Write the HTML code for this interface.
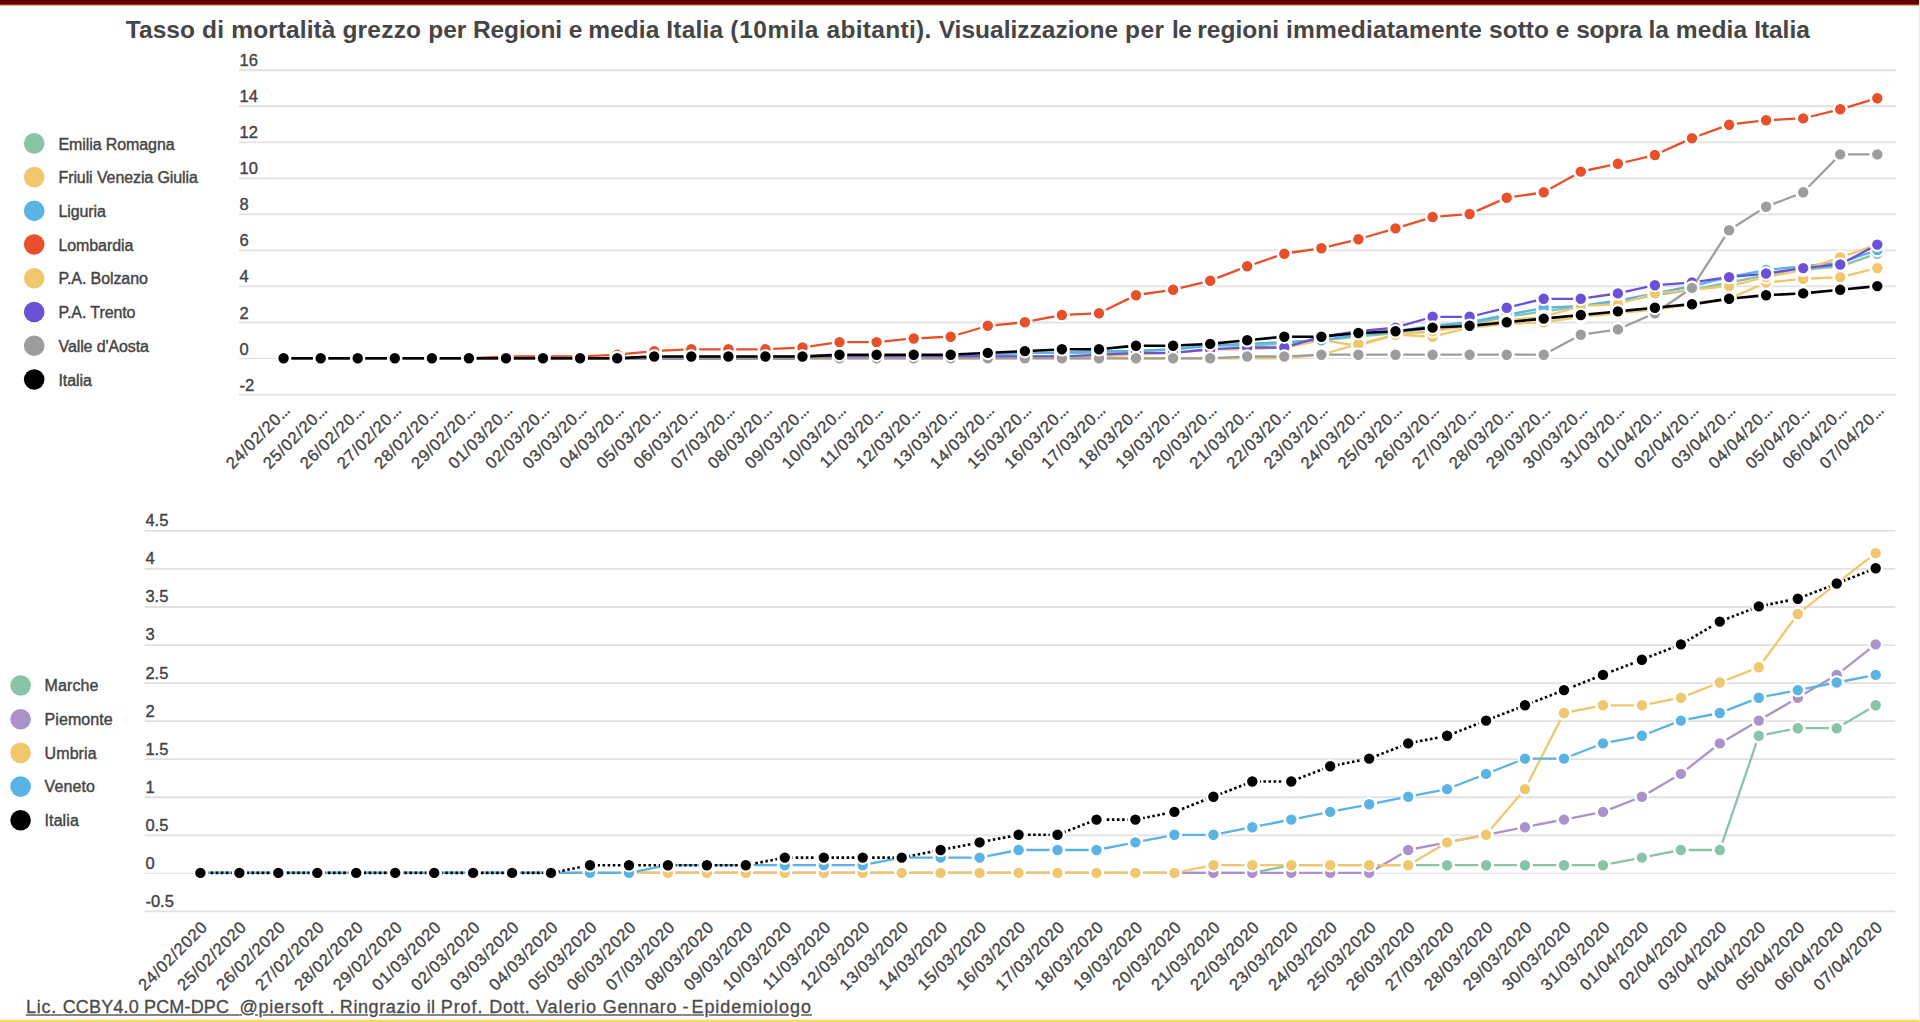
<!DOCTYPE html>
<html lang="it">
<head>
<meta charset="utf-8">
<title>Tasso di mortalità grezzo</title>
<style>
html,body{margin:0;padding:0;background:#fff;}
body{width:1920px;height:1022px;position:relative;overflow:hidden;font-family:"Liberation Sans", sans-serif;color:#444444;}
#topbar{position:absolute;left:0;top:0;width:1919px;height:6px;background:linear-gradient(to bottom,#690000 0,#690000 3.6px,#8a2a10 4.4px,#d8a83c 5.3px,#ffffff 6px);}
#rightedge{position:absolute;left:1918.6px;top:0;width:1.4px;height:1022px;background:#ececec;}
#botbar{position:absolute;left:0;top:1019.6px;width:1920px;height:2.4px;background:#fdd663;}
#botbar2{position:absolute;left:0;top:1018.8px;width:1920px;height:1px;background:#edf1fb;}
h1{position:absolute;left:125.7px;top:14.3px;margin:0;font-size:24.5px;line-height:32px;font-weight:bold;white-space:nowrap;color:#454545;transform-origin:0 50%;}
#foot{position:absolute;left:25.9px;top:994.8px;margin:0;font-size:18px;-webkit-text-stroke:0.3px #4a4a4a;line-height:24px;white-space:pre;color:#4a4a4a;text-decoration:underline;text-decoration-color:#858585;text-decoration-thickness:1.6px;text-underline-offset:0.9px;transform-origin:0 50%;}
svg{position:absolute;left:0;top:0;font-family:"Liberation Sans", sans-serif;}
</style>
</head>
<body>
<div id="topbar"></div>
<h1 id="title"><span style="letter-spacing:0.084px">Tasso </span><span style="letter-spacing:0.24px">di </span><span style="letter-spacing:0.083px">mortalità </span><span style="letter-spacing:0.215px">grezzo </span><span style="letter-spacing:-0.058px">per </span><span style="letter-spacing:-0.13px">Regioni </span><span style="letter-spacing:-0.366px">e </span><span style="letter-spacing:0.047px">media </span><span style="letter-spacing:0.209px">Italia </span><span style="letter-spacing:0.607px">(10mila </span><span style="letter-spacing:0.301px">abitanti). </span><span style="letter-spacing:0.014px">Visualizzazione </span><span style="letter-spacing:0.517px">per </span><span style="letter-spacing:-0.68px">le </span><span style="letter-spacing:0.028px">regioni </span><span style="letter-spacing:0.203px">immediatamente </span><span style="letter-spacing:-0.03px">sotto </span><span style="letter-spacing:0.034px">e </span><span style="letter-spacing:-0.187px">sopra </span><span style="letter-spacing:-0.013px">la </span><span style="letter-spacing:0.131px">media </span><span style="letter-spacing:-0.041px">Italia</span></h1>
<svg width="1920" height="1022" viewBox="0 0 1920 1022">
<g id="chart1">
<line x1="239" y1="70.23" x2="1896.2" y2="70.23" stroke="#e1e1e1" stroke-width="1.8"/>
<line x1="239" y1="106.27" x2="1896.2" y2="106.27" stroke="#e1e1e1" stroke-width="1.8"/>
<line x1="239" y1="142.31" x2="1896.2" y2="142.31" stroke="#e1e1e1" stroke-width="1.8"/>
<line x1="239" y1="178.35" x2="1896.2" y2="178.35" stroke="#e1e1e1" stroke-width="1.8"/>
<line x1="239" y1="214.39" x2="1896.2" y2="214.39" stroke="#e1e1e1" stroke-width="1.8"/>
<line x1="239" y1="250.43" x2="1896.2" y2="250.43" stroke="#e1e1e1" stroke-width="1.8"/>
<line x1="239" y1="286.47" x2="1896.2" y2="286.47" stroke="#e1e1e1" stroke-width="1.8"/>
<line x1="239" y1="322.51" x2="1896.2" y2="322.51" stroke="#e1e1e1" stroke-width="1.8"/>
<line x1="239" y1="358.55" x2="1896.2" y2="358.55" stroke="#dedede" stroke-width="1.1"/>
<line x1="239" y1="394.59" x2="1896.2" y2="394.59" stroke="#e1e1e1" stroke-width="1.8"/>
<g font-size="16.5" fill="#444444" stroke="#444444" stroke-width="0.4">
<text x="239.5" y="66.23">16</text>
<text x="239.5" y="102.27">14</text>
<text x="239.5" y="138.31">12</text>
<text x="239.5" y="174.35">10</text>
<text x="239.5" y="210.39">8</text>
<text x="239.5" y="246.43">6</text>
<text x="239.5" y="282.47">4</text>
<text x="239.5" y="318.51">2</text>
<text x="239.5" y="354.55">0</text>
<text x="239.5" y="390.59">-2</text>
</g>
<g font-size="16.5" fill="#444444" stroke="#444444" stroke-width="0.35" text-anchor="end" letter-spacing="0.78">
<text transform="translate(290.50 411.90) rotate(-45)">24/02/20<tspan letter-spacing="-0.8">...</tspan></text>
<text transform="translate(327.56 411.90) rotate(-45)">25/02/20<tspan letter-spacing="-0.8">...</tspan></text>
<text transform="translate(364.63 411.90) rotate(-45)">26/02/20<tspan letter-spacing="-0.8">...</tspan></text>
<text transform="translate(401.69 411.90) rotate(-45)">27/02/20<tspan letter-spacing="-0.8">...</tspan></text>
<text transform="translate(438.75 411.90) rotate(-45)">28/02/20<tspan letter-spacing="-0.8">...</tspan></text>
<text transform="translate(475.81 411.90) rotate(-45)">29/02/20<tspan letter-spacing="-0.8">...</tspan></text>
<text transform="translate(512.88 411.90) rotate(-45)">01/03/20<tspan letter-spacing="-0.8">...</tspan></text>
<text transform="translate(549.94 411.90) rotate(-45)">02/03/20<tspan letter-spacing="-0.8">...</tspan></text>
<text transform="translate(587.00 411.90) rotate(-45)">03/03/20<tspan letter-spacing="-0.8">...</tspan></text>
<text transform="translate(624.07 411.90) rotate(-45)">04/03/20<tspan letter-spacing="-0.8">...</tspan></text>
<text transform="translate(661.13 411.90) rotate(-45)">05/03/20<tspan letter-spacing="-0.8">...</tspan></text>
<text transform="translate(698.19 411.90) rotate(-45)">06/03/20<tspan letter-spacing="-0.8">...</tspan></text>
<text transform="translate(735.26 411.90) rotate(-45)">07/03/20<tspan letter-spacing="-0.8">...</tspan></text>
<text transform="translate(772.32 411.90) rotate(-45)">08/03/20<tspan letter-spacing="-0.8">...</tspan></text>
<text transform="translate(809.38 411.90) rotate(-45)">09/03/20<tspan letter-spacing="-0.8">...</tspan></text>
<text transform="translate(846.45 411.90) rotate(-45)">10/03/20<tspan letter-spacing="-0.8">...</tspan></text>
<text transform="translate(883.51 411.90) rotate(-45)">11/03/20<tspan letter-spacing="-0.8">...</tspan></text>
<text transform="translate(920.57 411.90) rotate(-45)">12/03/20<tspan letter-spacing="-0.8">...</tspan></text>
<text transform="translate(957.63 411.90) rotate(-45)">13/03/20<tspan letter-spacing="-0.8">...</tspan></text>
<text transform="translate(994.70 411.90) rotate(-45)">14/03/20<tspan letter-spacing="-0.8">...</tspan></text>
<text transform="translate(1031.76 411.90) rotate(-45)">15/03/20<tspan letter-spacing="-0.8">...</tspan></text>
<text transform="translate(1068.82 411.90) rotate(-45)">16/03/20<tspan letter-spacing="-0.8">...</tspan></text>
<text transform="translate(1105.89 411.90) rotate(-45)">17/03/20<tspan letter-spacing="-0.8">...</tspan></text>
<text transform="translate(1142.95 411.90) rotate(-45)">18/03/20<tspan letter-spacing="-0.8">...</tspan></text>
<text transform="translate(1180.01 411.90) rotate(-45)">19/03/20<tspan letter-spacing="-0.8">...</tspan></text>
<text transform="translate(1217.08 411.90) rotate(-45)">20/03/20<tspan letter-spacing="-0.8">...</tspan></text>
<text transform="translate(1254.14 411.90) rotate(-45)">21/03/20<tspan letter-spacing="-0.8">...</tspan></text>
<text transform="translate(1291.20 411.90) rotate(-45)">22/03/20<tspan letter-spacing="-0.8">...</tspan></text>
<text transform="translate(1328.26 411.90) rotate(-45)">23/03/20<tspan letter-spacing="-0.8">...</tspan></text>
<text transform="translate(1365.33 411.90) rotate(-45)">24/03/20<tspan letter-spacing="-0.8">...</tspan></text>
<text transform="translate(1402.39 411.90) rotate(-45)">25/03/20<tspan letter-spacing="-0.8">...</tspan></text>
<text transform="translate(1439.45 411.90) rotate(-45)">26/03/20<tspan letter-spacing="-0.8">...</tspan></text>
<text transform="translate(1476.52 411.90) rotate(-45)">27/03/20<tspan letter-spacing="-0.8">...</tspan></text>
<text transform="translate(1513.58 411.90) rotate(-45)">28/03/20<tspan letter-spacing="-0.8">...</tspan></text>
<text transform="translate(1550.64 411.90) rotate(-45)">29/03/20<tspan letter-spacing="-0.8">...</tspan></text>
<text transform="translate(1587.71 411.90) rotate(-45)">30/03/20<tspan letter-spacing="-0.8">...</tspan></text>
<text transform="translate(1624.77 411.90) rotate(-45)">31/03/20<tspan letter-spacing="-0.8">...</tspan></text>
<text transform="translate(1661.83 411.90) rotate(-45)">01/04/20<tspan letter-spacing="-0.8">...</tspan></text>
<text transform="translate(1698.89 411.90) rotate(-45)">02/04/20<tspan letter-spacing="-0.8">...</tspan></text>
<text transform="translate(1735.96 411.90) rotate(-45)">03/04/20<tspan letter-spacing="-0.8">...</tspan></text>
<text transform="translate(1773.02 411.90) rotate(-45)">04/04/20<tspan letter-spacing="-0.8">...</tspan></text>
<text transform="translate(1810.08 411.90) rotate(-45)">05/04/20<tspan letter-spacing="-0.8">...</tspan></text>
<text transform="translate(1847.15 411.90) rotate(-45)">06/04/20<tspan letter-spacing="-0.8">...</tspan></text>
<text transform="translate(1884.21 411.90) rotate(-45)">07/04/20<tspan letter-spacing="-0.8">...</tspan></text>
</g>
<g fill="#88c4a8" stroke="#fff" stroke-width="2.1">
<path d="M291.4 358.3L312.9 358.3M328.5 358.3L349.9 358.3M365.5 358.3L387.0 358.3M402.6 358.3L424.1 358.3M439.7 358.3L461.1 358.3M476.7 358.3L498.2 358.3M513.8 358.3L535.2 358.3M550.8 358.3L572.3 358.3M587.9 358.3L609.4 358.3M625.0 358.3L646.4 358.3M662.0 358.3L683.5 358.3M699.1 358.3L720.6 358.3M736.1 357.9L757.6 356.9M773.2 356.5L794.7 356.5M810.3 356.5L831.7 356.5M847.3 356.5L868.8 356.5M884.4 356.5L905.9 356.5M921.5 356.1L942.9 355.1M958.5 354.7L980.0 354.7M995.6 354.3L1017.1 353.3M1032.7 352.9L1054.1 352.9M1069.7 352.9L1091.2 352.9M1106.8 352.5L1128.3 351.5M1143.8 350.7L1165.3 349.7M1180.9 348.5L1202.4 346.4M1218.0 345.7L1239.4 345.7M1255.0 345.3L1276.5 344.2M1292.1 343.1L1313.6 341.0M1329.1 339.5L1350.7 337.4M1366.2 335.9L1387.7 333.8M1403.2 331.9L1424.8 328.8M1440.3 326.9L1461.9 324.8M1477.3 322.5L1499.0 318.3M1514.4 315.7L1536.0 312.5M1551.5 310.3L1573.1 307.1M1588.6 305.2L1610.1 303.1M1625.5 300.9L1647.3 296.7M1662.6 294.0L1684.3 290.9M1699.7 288.3L1721.4 284.0M1736.7 281.0L1758.5 276.8M1773.8 274.2L1795.5 271.0M1810.9 269.1L1832.5 267.1M1847.6 263.8L1869.9 256.2" fill="none" stroke="#88c4a8" stroke-width="2.3"/>
<circle cx="283.6" cy="358.3" r="6.25"/>
<circle cx="320.7" cy="358.3" r="6.25"/>
<circle cx="357.7" cy="358.3" r="6.25"/>
<circle cx="394.8" cy="358.3" r="6.25"/>
<circle cx="431.9" cy="358.3" r="6.25"/>
<circle cx="468.9" cy="358.3" r="6.25"/>
<circle cx="506.0" cy="358.3" r="6.25"/>
<circle cx="543.0" cy="358.3" r="6.25"/>
<circle cx="580.1" cy="358.3" r="6.25"/>
<circle cx="617.2" cy="358.3" r="6.25"/>
<circle cx="654.2" cy="358.3" r="6.25"/>
<circle cx="691.3" cy="358.3" r="6.25"/>
<circle cx="728.4" cy="358.3" r="6.25"/>
<circle cx="765.4" cy="356.5" r="6.25"/>
<circle cx="802.5" cy="356.5" r="6.25"/>
<circle cx="839.5" cy="356.5" r="6.25"/>
<circle cx="876.6" cy="356.5" r="6.25"/>
<circle cx="913.7" cy="356.5" r="6.25"/>
<circle cx="950.7" cy="354.7" r="6.25"/>
<circle cx="987.8" cy="354.7" r="6.25"/>
<circle cx="1024.9" cy="352.9" r="6.25"/>
<circle cx="1061.9" cy="352.9" r="6.25"/>
<circle cx="1099.0" cy="352.9" r="6.25"/>
<circle cx="1136.0" cy="351.1" r="6.25"/>
<circle cx="1173.1" cy="349.3" r="6.25"/>
<circle cx="1210.2" cy="345.7" r="6.25"/>
<circle cx="1247.2" cy="345.7" r="6.25"/>
<circle cx="1284.3" cy="343.9" r="6.25"/>
<circle cx="1321.4" cy="340.3" r="6.25"/>
<circle cx="1358.4" cy="336.7" r="6.25"/>
<circle cx="1395.5" cy="333.0" r="6.25"/>
<circle cx="1432.6" cy="327.6" r="6.25"/>
<circle cx="1469.6" cy="324.0" r="6.25"/>
<circle cx="1506.7" cy="316.8" r="6.25"/>
<circle cx="1543.7" cy="311.4" r="6.25"/>
<circle cx="1580.8" cy="306.0" r="6.25"/>
<circle cx="1617.9" cy="302.4" r="6.25"/>
<circle cx="1654.9" cy="295.2" r="6.25"/>
<circle cx="1692.0" cy="289.7" r="6.25"/>
<circle cx="1729.1" cy="282.5" r="6.25"/>
<circle cx="1766.1" cy="275.3" r="6.25"/>
<circle cx="1803.2" cy="269.9" r="6.25"/>
<circle cx="1840.2" cy="266.3" r="6.25"/>
<circle cx="1877.3" cy="253.7" r="6.25"/>
</g>
<g fill="#f0c76c" stroke="#fff" stroke-width="2.1">
<path d="M291.4 358.3L312.9 358.3M328.5 358.3L349.9 358.3M365.5 358.3L387.0 358.3M402.6 358.3L424.1 358.3M439.7 358.3L461.1 358.3M476.7 358.3L498.2 358.3M513.8 358.3L535.2 358.3M550.8 358.3L572.3 358.3M587.9 358.3L609.4 358.3M625.0 358.3L646.4 358.3M662.0 358.3L683.5 358.3M699.1 358.3L720.6 358.3M736.2 358.3L757.6 358.3M773.2 358.3L794.7 358.3M810.3 358.3L831.7 358.3M847.3 358.3L868.8 358.3M884.4 358.3L905.9 358.3M921.5 358.3L942.9 358.3M958.5 357.9L980.0 356.9M995.6 356.5L1017.1 356.5M1032.7 356.5L1054.1 356.5M1069.7 356.5L1091.2 356.5M1106.8 356.1L1128.3 355.1M1143.8 354.3L1165.3 353.3M1180.9 352.1L1202.4 350.0M1218.0 349.3L1239.4 349.3M1255.0 348.9L1276.5 347.9M1292.0 346.0L1313.7 341.8M1329.1 341.4L1350.7 344.5M1365.9 343.5L1388.0 337.0M1403.3 335.2L1424.8 336.3M1440.1 334.8L1462.0 329.5M1477.4 326.9L1498.9 324.8M1514.5 323.6L1536.0 322.6M1551.5 321.1L1573.1 317.9M1588.6 316.1L1610.1 314.0M1625.6 312.4L1647.2 310.3M1662.6 308.5L1684.3 305.3M1699.7 303.1L1721.3 299.9M1736.2 295.6L1759.0 285.7M1773.9 281.8L1795.4 279.7M1811.0 278.5L1832.5 277.5M1847.8 275.3L1869.7 269.9" fill="none" stroke="#f0c76c" stroke-width="2.3"/>
<circle cx="283.6" cy="358.3" r="6.25"/>
<circle cx="320.7" cy="358.3" r="6.25"/>
<circle cx="357.7" cy="358.3" r="6.25"/>
<circle cx="394.8" cy="358.3" r="6.25"/>
<circle cx="431.9" cy="358.3" r="6.25"/>
<circle cx="468.9" cy="358.3" r="6.25"/>
<circle cx="506.0" cy="358.3" r="6.25"/>
<circle cx="543.0" cy="358.3" r="6.25"/>
<circle cx="580.1" cy="358.3" r="6.25"/>
<circle cx="617.2" cy="358.3" r="6.25"/>
<circle cx="654.2" cy="358.3" r="6.25"/>
<circle cx="691.3" cy="358.3" r="6.25"/>
<circle cx="728.4" cy="358.3" r="6.25"/>
<circle cx="765.4" cy="358.3" r="6.25"/>
<circle cx="802.5" cy="358.3" r="6.25"/>
<circle cx="839.5" cy="358.3" r="6.25"/>
<circle cx="876.6" cy="358.3" r="6.25"/>
<circle cx="913.7" cy="358.3" r="6.25"/>
<circle cx="950.7" cy="358.3" r="6.25"/>
<circle cx="987.8" cy="356.5" r="6.25"/>
<circle cx="1024.9" cy="356.5" r="6.25"/>
<circle cx="1061.9" cy="356.5" r="6.25"/>
<circle cx="1099.0" cy="356.5" r="6.25"/>
<circle cx="1136.0" cy="354.7" r="6.25"/>
<circle cx="1173.1" cy="352.9" r="6.25"/>
<circle cx="1210.2" cy="349.3" r="6.25"/>
<circle cx="1247.2" cy="349.3" r="6.25"/>
<circle cx="1284.3" cy="347.5" r="6.25"/>
<circle cx="1321.4" cy="340.3" r="6.25"/>
<circle cx="1358.4" cy="345.7" r="6.25"/>
<circle cx="1395.5" cy="334.8" r="6.25"/>
<circle cx="1432.6" cy="336.7" r="6.25"/>
<circle cx="1469.6" cy="327.6" r="6.25"/>
<circle cx="1506.7" cy="324.0" r="6.25"/>
<circle cx="1543.7" cy="322.2" r="6.25"/>
<circle cx="1580.8" cy="316.8" r="6.25"/>
<circle cx="1617.9" cy="313.2" r="6.25"/>
<circle cx="1654.9" cy="309.6" r="6.25"/>
<circle cx="1692.0" cy="304.2" r="6.25"/>
<circle cx="1729.1" cy="298.8" r="6.25"/>
<circle cx="1766.1" cy="282.5" r="6.25"/>
<circle cx="1803.2" cy="278.9" r="6.25"/>
<circle cx="1840.2" cy="277.1" r="6.25"/>
<circle cx="1877.3" cy="268.1" r="6.25"/>
</g>
<g fill="#5ab3e5" stroke="#fff" stroke-width="2.1">
<path d="M291.4 358.3L312.9 358.3M328.5 358.3L349.9 358.3M365.5 358.3L387.0 358.3M402.6 358.3L424.1 358.3M439.7 358.3L461.1 358.3M476.7 358.3L498.2 358.3M513.8 358.3L535.2 358.3M550.8 358.3L572.3 358.3M587.9 358.3L609.4 358.3M625.0 358.3L646.4 358.3M662.0 358.3L683.5 358.3M699.1 358.3L720.6 358.3M736.2 358.3L757.6 358.3M773.2 358.3L794.7 358.3M810.3 357.9L831.8 356.9M847.3 356.5L868.8 356.5M884.4 356.5L905.9 356.5M921.5 356.5L942.9 356.5M958.5 356.1L980.0 355.1M995.6 354.3L1017.1 353.3M1032.7 352.9L1054.1 352.9M1069.7 352.5L1091.2 351.5M1106.8 351.1L1128.2 351.1M1143.8 350.7L1165.3 349.7M1180.9 348.5L1202.4 346.4M1218.0 345.3L1239.4 344.2M1255.0 343.5L1276.5 342.4M1292.1 341.7L1313.6 340.6M1329.1 339.1L1350.7 336.0M1366.2 334.1L1387.7 332.0M1403.2 330.1L1424.8 327.0M1440.3 325.1L1461.9 323.0M1477.3 320.7L1499.0 316.5M1514.3 313.5L1536.1 309.3M1551.5 307.4L1573.0 306.4M1588.5 304.9L1610.1 301.7M1625.5 299.1L1647.3 294.8M1662.6 291.9L1684.3 287.6M1699.6 284.3L1721.5 279.0M1736.7 275.6L1758.5 271.4M1773.9 269.1L1795.4 267.1M1810.9 265.5L1832.5 263.4M1847.6 260.2L1869.9 252.6" fill="none" stroke="#5ab3e5" stroke-width="2.3"/>
<circle cx="283.6" cy="358.3" r="6.25"/>
<circle cx="320.7" cy="358.3" r="6.25"/>
<circle cx="357.7" cy="358.3" r="6.25"/>
<circle cx="394.8" cy="358.3" r="6.25"/>
<circle cx="431.9" cy="358.3" r="6.25"/>
<circle cx="468.9" cy="358.3" r="6.25"/>
<circle cx="506.0" cy="358.3" r="6.25"/>
<circle cx="543.0" cy="358.3" r="6.25"/>
<circle cx="580.1" cy="358.3" r="6.25"/>
<circle cx="617.2" cy="358.3" r="6.25"/>
<circle cx="654.2" cy="358.3" r="6.25"/>
<circle cx="691.3" cy="358.3" r="6.25"/>
<circle cx="728.4" cy="358.3" r="6.25"/>
<circle cx="765.4" cy="358.3" r="6.25"/>
<circle cx="802.5" cy="358.3" r="6.25"/>
<circle cx="839.5" cy="356.5" r="6.25"/>
<circle cx="876.6" cy="356.5" r="6.25"/>
<circle cx="913.7" cy="356.5" r="6.25"/>
<circle cx="950.7" cy="356.5" r="6.25"/>
<circle cx="987.8" cy="354.7" r="6.25"/>
<circle cx="1024.9" cy="352.9" r="6.25"/>
<circle cx="1061.9" cy="352.9" r="6.25"/>
<circle cx="1099.0" cy="351.1" r="6.25"/>
<circle cx="1136.0" cy="351.1" r="6.25"/>
<circle cx="1173.1" cy="349.3" r="6.25"/>
<circle cx="1210.2" cy="345.7" r="6.25"/>
<circle cx="1247.2" cy="343.9" r="6.25"/>
<circle cx="1284.3" cy="342.1" r="6.25"/>
<circle cx="1321.4" cy="340.3" r="6.25"/>
<circle cx="1358.4" cy="334.8" r="6.25"/>
<circle cx="1395.5" cy="331.2" r="6.25"/>
<circle cx="1432.6" cy="325.8" r="6.25"/>
<circle cx="1469.6" cy="322.2" r="6.25"/>
<circle cx="1506.7" cy="315.0" r="6.25"/>
<circle cx="1543.7" cy="307.8" r="6.25"/>
<circle cx="1580.8" cy="306.0" r="6.25"/>
<circle cx="1617.9" cy="300.6" r="6.25"/>
<circle cx="1654.9" cy="293.4" r="6.25"/>
<circle cx="1692.0" cy="286.1" r="6.25"/>
<circle cx="1729.1" cy="277.1" r="6.25"/>
<circle cx="1766.1" cy="269.9" r="6.25"/>
<circle cx="1803.2" cy="266.3" r="6.25"/>
<circle cx="1840.2" cy="262.7" r="6.25"/>
<circle cx="1877.3" cy="250.1" r="6.25"/>
</g>
<g fill="#e8502a" stroke="#fff" stroke-width="2.1">
<path d="M291.4 358.3L312.9 358.3M328.5 358.3L349.9 358.3M365.5 358.3L387.0 358.3M402.6 358.3L424.1 358.3M439.7 358.3L461.1 358.3M476.7 357.9L498.2 356.9M513.8 356.5L535.2 356.5M550.8 356.5L572.3 356.5M587.9 356.1L609.4 355.1M624.9 353.9L646.5 351.8M662.0 350.7L683.5 349.7M699.1 349.3L720.6 349.3M736.2 349.3L757.6 349.3M773.2 348.9L794.7 347.9M810.2 346.3L831.8 343.2M847.3 342.1L868.8 342.1M884.4 341.3L905.9 339.2M921.5 338.1L942.9 337.0M958.2 334.5L980.3 328.0M995.6 325.1L1017.1 323.0M1032.5 320.7L1054.3 316.5M1069.7 314.6L1091.2 313.6M1106.0 309.8L1129.0 298.6M1143.8 294.0L1165.4 290.9M1180.7 287.9L1202.6 282.6M1217.4 277.9L1240.0 269.1M1254.6 263.8L1276.9 256.2M1292.0 252.5L1313.6 249.4M1328.9 246.4L1350.8 241.1M1365.9 237.0L1388.0 230.6M1402.9 226.1L1425.1 219.3M1440.3 216.4L1461.8 214.6M1476.8 210.9L1499.5 200.9M1514.4 196.6L1536.0 193.5M1550.5 188.5L1574.0 175.4M1588.4 170.0L1610.2 165.4M1625.5 162.0L1647.3 156.8M1662.0 151.8L1684.9 141.4M1699.3 135.5L1721.7 127.4M1736.8 123.7L1758.4 121.1M1773.9 119.8L1795.4 118.7M1810.8 116.5L1832.7 111.2M1847.7 107.1L1869.8 100.4" fill="none" stroke="#e8502a" stroke-width="2.3"/>
<circle cx="283.6" cy="358.3" r="6.25"/>
<circle cx="320.7" cy="358.3" r="6.25"/>
<circle cx="357.7" cy="358.3" r="6.25"/>
<circle cx="394.8" cy="358.3" r="6.25"/>
<circle cx="431.9" cy="358.3" r="6.25"/>
<circle cx="468.9" cy="358.3" r="6.25"/>
<circle cx="506.0" cy="356.5" r="6.25"/>
<circle cx="543.0" cy="356.5" r="6.25"/>
<circle cx="580.1" cy="356.5" r="6.25"/>
<circle cx="617.2" cy="354.7" r="6.25"/>
<circle cx="654.2" cy="351.1" r="6.25"/>
<circle cx="691.3" cy="349.3" r="6.25"/>
<circle cx="728.4" cy="349.3" r="6.25"/>
<circle cx="765.4" cy="349.3" r="6.25"/>
<circle cx="802.5" cy="347.5" r="6.25"/>
<circle cx="839.5" cy="342.1" r="6.25"/>
<circle cx="876.6" cy="342.1" r="6.25"/>
<circle cx="913.7" cy="338.5" r="6.25"/>
<circle cx="950.7" cy="336.7" r="6.25"/>
<circle cx="987.8" cy="325.8" r="6.25"/>
<circle cx="1024.9" cy="322.2" r="6.25"/>
<circle cx="1061.9" cy="315.0" r="6.25"/>
<circle cx="1099.0" cy="313.2" r="6.25"/>
<circle cx="1136.0" cy="295.2" r="6.25"/>
<circle cx="1173.1" cy="289.7" r="6.25"/>
<circle cx="1210.2" cy="280.7" r="6.25"/>
<circle cx="1247.2" cy="266.3" r="6.25"/>
<circle cx="1284.3" cy="253.7" r="6.25"/>
<circle cx="1321.4" cy="248.3" r="6.25"/>
<circle cx="1358.4" cy="239.2" r="6.25"/>
<circle cx="1395.5" cy="228.4" r="6.25"/>
<circle cx="1432.6" cy="217.0" r="6.25"/>
<circle cx="1469.6" cy="214.0" r="6.25"/>
<circle cx="1506.7" cy="197.7" r="6.25"/>
<circle cx="1543.7" cy="192.3" r="6.25"/>
<circle cx="1580.8" cy="171.6" r="6.25"/>
<circle cx="1617.9" cy="163.8" r="6.25"/>
<circle cx="1654.9" cy="155.0" r="6.25"/>
<circle cx="1692.0" cy="138.2" r="6.25"/>
<circle cx="1729.1" cy="124.7" r="6.25"/>
<circle cx="1766.1" cy="120.2" r="6.25"/>
<circle cx="1803.2" cy="118.4" r="6.25"/>
<circle cx="1840.2" cy="109.3" r="6.25"/>
<circle cx="1877.3" cy="98.2" r="6.25"/>
</g>
<g fill="#f0c76c" stroke="#fff" stroke-width="2.1">
<path d="M291.4 358.3L312.9 358.3M328.5 358.3L349.9 358.3M365.5 358.3L387.0 358.3M402.6 358.3L424.1 358.3M439.7 358.3L461.1 358.3M476.7 358.3L498.2 358.3M513.8 358.3L535.2 358.3M550.8 358.3L572.3 358.3M587.9 358.3L609.4 358.3M625.0 358.3L646.4 358.3M662.0 358.3L683.5 358.3M699.1 358.3L720.6 358.3M736.2 358.3L757.6 358.3M773.2 358.3L794.7 358.3M810.3 358.3L831.7 358.3M847.3 358.3L868.8 358.3M884.4 358.3L905.9 358.3M921.5 358.3L942.9 358.3M958.5 358.3L980.0 358.3M995.6 358.3L1017.1 358.3M1032.7 358.3L1054.1 358.3M1069.7 358.3L1091.2 358.3M1106.8 358.3L1128.2 358.3M1143.8 358.3L1165.3 358.3M1180.9 358.3L1202.4 358.3M1218.0 358.3L1239.4 358.3M1255.0 358.3L1276.5 358.3M1292.1 357.5L1313.6 355.4M1328.9 352.5L1350.9 346.1M1366.0 342.0L1387.9 336.7M1403.3 334.1L1424.8 332.0M1440.3 330.1L1461.9 327.0M1477.3 324.7L1499.0 321.5M1514.4 319.7L1536.0 317.6M1551.2 314.6L1573.3 308.2M1588.6 305.6L1610.1 304.6M1625.4 302.0L1647.4 295.5M1662.7 292.6L1684.2 290.5M1699.8 289.0L1721.3 286.9M1736.6 284.3L1758.5 279.0M1773.8 275.6L1795.5 271.4M1810.6 267.4L1832.9 259.8M1847.6 254.8L1869.9 247.2" fill="none" stroke="#f0c76c" stroke-width="2.3"/>
<circle cx="283.6" cy="358.3" r="6.25"/>
<circle cx="320.7" cy="358.3" r="6.25"/>
<circle cx="357.7" cy="358.3" r="6.25"/>
<circle cx="394.8" cy="358.3" r="6.25"/>
<circle cx="431.9" cy="358.3" r="6.25"/>
<circle cx="468.9" cy="358.3" r="6.25"/>
<circle cx="506.0" cy="358.3" r="6.25"/>
<circle cx="543.0" cy="358.3" r="6.25"/>
<circle cx="580.1" cy="358.3" r="6.25"/>
<circle cx="617.2" cy="358.3" r="6.25"/>
<circle cx="654.2" cy="358.3" r="6.25"/>
<circle cx="691.3" cy="358.3" r="6.25"/>
<circle cx="728.4" cy="358.3" r="6.25"/>
<circle cx="765.4" cy="358.3" r="6.25"/>
<circle cx="802.5" cy="358.3" r="6.25"/>
<circle cx="839.5" cy="358.3" r="6.25"/>
<circle cx="876.6" cy="358.3" r="6.25"/>
<circle cx="913.7" cy="358.3" r="6.25"/>
<circle cx="950.7" cy="358.3" r="6.25"/>
<circle cx="987.8" cy="358.3" r="6.25"/>
<circle cx="1024.9" cy="358.3" r="6.25"/>
<circle cx="1061.9" cy="358.3" r="6.25"/>
<circle cx="1099.0" cy="358.3" r="6.25"/>
<circle cx="1136.0" cy="358.3" r="6.25"/>
<circle cx="1173.1" cy="358.3" r="6.25"/>
<circle cx="1210.2" cy="358.3" r="6.25"/>
<circle cx="1247.2" cy="358.3" r="6.25"/>
<circle cx="1284.3" cy="358.3" r="6.25"/>
<circle cx="1321.4" cy="354.7" r="6.25"/>
<circle cx="1358.4" cy="343.9" r="6.25"/>
<circle cx="1395.5" cy="334.8" r="6.25"/>
<circle cx="1432.6" cy="331.2" r="6.25"/>
<circle cx="1469.6" cy="325.8" r="6.25"/>
<circle cx="1506.7" cy="320.4" r="6.25"/>
<circle cx="1543.7" cy="316.8" r="6.25"/>
<circle cx="1580.8" cy="306.0" r="6.25"/>
<circle cx="1617.9" cy="304.2" r="6.25"/>
<circle cx="1654.9" cy="293.4" r="6.25"/>
<circle cx="1692.0" cy="289.7" r="6.25"/>
<circle cx="1729.1" cy="286.1" r="6.25"/>
<circle cx="1766.1" cy="277.1" r="6.25"/>
<circle cx="1803.2" cy="269.9" r="6.25"/>
<circle cx="1840.2" cy="257.3" r="6.25"/>
<circle cx="1877.3" cy="244.6" r="6.25"/>
</g>
<g fill="#6b50d8" stroke="#fff" stroke-width="2.1">
<path d="M291.4 358.3L312.9 358.3M328.5 358.3L349.9 358.3M365.5 358.3L387.0 358.3M402.6 358.3L424.1 358.3M439.7 358.3L461.1 358.3M476.7 358.3L498.2 358.3M513.8 358.3L535.2 358.3M550.8 358.3L572.3 358.3M587.9 358.3L609.4 358.3M625.0 358.3L646.4 358.3M662.0 358.3L683.5 358.3M699.1 358.3L720.6 358.3M736.2 358.3L757.6 358.3M773.2 358.3L794.7 358.3M810.3 357.9L831.8 356.9M847.3 356.5L868.8 356.5M884.4 356.5L905.9 356.5M921.5 356.5L942.9 356.5M958.5 356.5L980.0 356.5M995.6 356.5L1017.1 356.5M1032.7 356.5L1054.1 356.5M1069.7 356.1L1091.2 355.1M1106.8 354.3L1128.3 353.3M1143.8 352.9L1165.3 352.9M1180.9 352.1L1202.4 350.0M1218.0 348.9L1239.4 347.9M1255.0 347.5L1276.5 347.5M1291.8 345.3L1313.9 338.8M1329.1 335.5L1350.7 332.4M1366.2 330.5L1387.7 328.4M1403.0 325.4L1425.1 319.0M1440.4 316.8L1461.8 316.8M1477.2 315.0L1499.1 309.6M1514.3 305.9L1536.2 300.6M1551.5 298.8L1573.0 298.8M1588.5 297.6L1610.1 294.5M1625.5 291.7L1647.3 286.9M1662.7 284.7L1684.2 283.1M1699.7 281.4L1721.3 278.2M1736.8 276.4L1758.4 274.3M1773.8 272.4L1795.5 269.2M1810.9 267.3L1832.5 265.2M1847.1 260.8L1870.4 248.3" fill="none" stroke="#6b50d8" stroke-width="2.3"/>
<circle cx="283.6" cy="358.3" r="6.25"/>
<circle cx="320.7" cy="358.3" r="6.25"/>
<circle cx="357.7" cy="358.3" r="6.25"/>
<circle cx="394.8" cy="358.3" r="6.25"/>
<circle cx="431.9" cy="358.3" r="6.25"/>
<circle cx="468.9" cy="358.3" r="6.25"/>
<circle cx="506.0" cy="358.3" r="6.25"/>
<circle cx="543.0" cy="358.3" r="6.25"/>
<circle cx="580.1" cy="358.3" r="6.25"/>
<circle cx="617.2" cy="358.3" r="6.25"/>
<circle cx="654.2" cy="358.3" r="6.25"/>
<circle cx="691.3" cy="358.3" r="6.25"/>
<circle cx="728.4" cy="358.3" r="6.25"/>
<circle cx="765.4" cy="358.3" r="6.25"/>
<circle cx="802.5" cy="358.3" r="6.25"/>
<circle cx="839.5" cy="356.5" r="6.25"/>
<circle cx="876.6" cy="356.5" r="6.25"/>
<circle cx="913.7" cy="356.5" r="6.25"/>
<circle cx="950.7" cy="356.5" r="6.25"/>
<circle cx="987.8" cy="356.5" r="6.25"/>
<circle cx="1024.9" cy="356.5" r="6.25"/>
<circle cx="1061.9" cy="356.5" r="6.25"/>
<circle cx="1099.0" cy="354.7" r="6.25"/>
<circle cx="1136.0" cy="352.9" r="6.25"/>
<circle cx="1173.1" cy="352.9" r="6.25"/>
<circle cx="1210.2" cy="349.3" r="6.25"/>
<circle cx="1247.2" cy="347.5" r="6.25"/>
<circle cx="1284.3" cy="347.5" r="6.25"/>
<circle cx="1321.4" cy="336.7" r="6.25"/>
<circle cx="1358.4" cy="331.2" r="6.25"/>
<circle cx="1395.5" cy="327.6" r="6.25"/>
<circle cx="1432.6" cy="316.8" r="6.25"/>
<circle cx="1469.6" cy="316.8" r="6.25"/>
<circle cx="1506.7" cy="307.8" r="6.25"/>
<circle cx="1543.7" cy="298.8" r="6.25"/>
<circle cx="1580.8" cy="298.8" r="6.25"/>
<circle cx="1617.9" cy="293.4" r="6.25"/>
<circle cx="1654.9" cy="285.2" r="6.25"/>
<circle cx="1692.0" cy="282.5" r="6.25"/>
<circle cx="1729.1" cy="277.1" r="6.25"/>
<circle cx="1766.1" cy="273.5" r="6.25"/>
<circle cx="1803.2" cy="268.1" r="6.25"/>
<circle cx="1840.2" cy="264.5" r="6.25"/>
<circle cx="1877.3" cy="244.6" r="6.25"/>
</g>
<g fill="#9d9d9d" stroke="#fff" stroke-width="2.1">
<path d="M291.4 358.3L312.9 358.3M328.5 358.3L349.9 358.3M365.5 358.3L387.0 358.3M402.6 358.3L424.1 358.3M439.7 358.3L461.1 358.3M476.7 358.3L498.2 358.3M513.8 358.3L535.2 358.3M550.8 358.3L572.3 358.3M587.9 358.3L609.4 358.3M625.0 358.3L646.4 358.3M662.0 358.3L683.5 358.3M699.1 358.3L720.6 358.3M736.2 358.3L757.6 358.3M773.2 358.3L794.7 358.3M810.3 358.3L831.7 358.3M847.3 358.3L868.8 358.3M884.4 358.3L905.9 358.3M921.5 358.3L942.9 358.3M958.5 358.3L980.0 358.3M995.6 358.3L1017.1 358.3M1032.7 358.3L1054.1 358.3M1069.7 358.3L1091.2 358.3M1106.8 358.3L1128.2 358.3M1143.8 358.3L1165.3 358.3M1180.9 358.3L1202.4 358.3M1218.0 357.9L1239.4 356.9M1255.0 356.5L1276.5 356.5M1292.1 356.1L1313.6 355.1M1329.2 354.7L1350.6 354.7M1366.2 354.7L1387.7 354.7M1403.3 354.7L1424.8 354.7M1440.4 354.7L1461.8 354.7M1477.4 354.7L1498.9 354.7M1514.5 354.7L1535.9 354.7M1550.6 351.0L1573.9 338.5M1588.5 333.7L1610.1 330.6M1625.0 326.3L1647.8 316.3M1661.4 308.8L1685.5 292.3M1696.2 281.4L1724.8 236.8M1735.6 226.0L1759.5 210.9M1773.4 203.9L1795.9 195.2M1808.6 186.8L1834.8 160.0M1848.0 154.4L1869.5 154.4" fill="none" stroke="#9d9d9d" stroke-width="2.3"/>
<circle cx="283.6" cy="358.3" r="6.25"/>
<circle cx="320.7" cy="358.3" r="6.25"/>
<circle cx="357.7" cy="358.3" r="6.25"/>
<circle cx="394.8" cy="358.3" r="6.25"/>
<circle cx="431.9" cy="358.3" r="6.25"/>
<circle cx="468.9" cy="358.3" r="6.25"/>
<circle cx="506.0" cy="358.3" r="6.25"/>
<circle cx="543.0" cy="358.3" r="6.25"/>
<circle cx="580.1" cy="358.3" r="6.25"/>
<circle cx="617.2" cy="358.3" r="6.25"/>
<circle cx="654.2" cy="358.3" r="6.25"/>
<circle cx="691.3" cy="358.3" r="6.25"/>
<circle cx="728.4" cy="358.3" r="6.25"/>
<circle cx="765.4" cy="358.3" r="6.25"/>
<circle cx="802.5" cy="358.3" r="6.25"/>
<circle cx="839.5" cy="358.3" r="6.25"/>
<circle cx="876.6" cy="358.3" r="6.25"/>
<circle cx="913.7" cy="358.3" r="6.25"/>
<circle cx="950.7" cy="358.3" r="6.25"/>
<circle cx="987.8" cy="358.3" r="6.25"/>
<circle cx="1024.9" cy="358.3" r="6.25"/>
<circle cx="1061.9" cy="358.3" r="6.25"/>
<circle cx="1099.0" cy="358.3" r="6.25"/>
<circle cx="1136.0" cy="358.3" r="6.25"/>
<circle cx="1173.1" cy="358.3" r="6.25"/>
<circle cx="1210.2" cy="358.3" r="6.25"/>
<circle cx="1247.2" cy="356.5" r="6.25"/>
<circle cx="1284.3" cy="356.5" r="6.25"/>
<circle cx="1321.4" cy="354.7" r="6.25"/>
<circle cx="1358.4" cy="354.7" r="6.25"/>
<circle cx="1395.5" cy="354.7" r="6.25"/>
<circle cx="1432.6" cy="354.7" r="6.25"/>
<circle cx="1469.6" cy="354.7" r="6.25"/>
<circle cx="1506.7" cy="354.7" r="6.25"/>
<circle cx="1543.7" cy="354.7" r="6.25"/>
<circle cx="1580.8" cy="334.8" r="6.25"/>
<circle cx="1617.9" cy="329.4" r="6.25"/>
<circle cx="1654.9" cy="313.2" r="6.25"/>
<circle cx="1692.0" cy="287.9" r="6.25"/>
<circle cx="1729.1" cy="230.2" r="6.25"/>
<circle cx="1766.1" cy="206.8" r="6.25"/>
<circle cx="1803.2" cy="192.3" r="6.25"/>
<circle cx="1840.2" cy="154.4" r="6.25"/>
<circle cx="1877.3" cy="154.4" r="6.25"/>
</g>
<g fill="#000000" stroke="#fff" stroke-width="2.1">
<path d="M291.4 358.3L312.9 358.3M328.5 358.3L349.9 358.3M365.5 358.3L387.0 358.3M402.6 358.3L424.1 358.3M439.7 358.3L461.1 358.3M476.7 358.3L498.2 358.3M513.8 358.3L535.2 358.3M550.8 358.3L572.3 358.3M587.9 358.3L609.4 358.3M625.0 357.9L646.4 356.9M662.0 356.5L683.5 356.5M699.1 356.5L720.6 356.5M736.2 356.5L757.6 356.5M773.2 356.5L794.7 356.5M810.3 356.1L831.8 355.1M847.3 354.7L868.8 354.7M884.4 354.7L905.9 354.7M921.5 354.7L942.9 354.7M958.5 354.3L980.0 353.3M995.6 352.5L1017.1 351.5M1032.7 350.7L1054.1 349.7M1069.7 349.3L1091.2 349.3M1106.7 348.5L1128.3 346.4M1143.8 345.7L1165.3 345.7M1180.9 345.3L1202.4 344.2M1217.9 343.1L1239.5 341.0M1255.0 339.5L1276.5 337.4M1292.1 336.7L1313.6 336.7M1329.1 335.9L1350.7 333.8M1366.2 332.7L1387.7 331.6M1403.3 330.5L1424.8 328.4M1440.3 327.3L1461.8 326.2M1477.4 325.1L1498.9 323.0M1514.4 321.5L1536.0 319.4M1551.5 317.9L1573.0 315.8M1588.6 314.2L1610.1 312.2M1625.6 310.6L1647.2 308.5M1662.7 307.0L1684.2 304.9M1699.7 303.1L1721.3 299.9M1736.8 298.0L1758.4 295.9M1773.9 294.8L1795.4 293.7M1810.9 292.6L1832.5 290.5M1848.0 289.0L1869.5 286.9" fill="none" stroke="#000000" stroke-width="2.6"/>
<circle cx="283.6" cy="358.3" r="6.25"/>
<circle cx="320.7" cy="358.3" r="6.25"/>
<circle cx="357.7" cy="358.3" r="6.25"/>
<circle cx="394.8" cy="358.3" r="6.25"/>
<circle cx="431.9" cy="358.3" r="6.25"/>
<circle cx="468.9" cy="358.3" r="6.25"/>
<circle cx="506.0" cy="358.3" r="6.25"/>
<circle cx="543.0" cy="358.3" r="6.25"/>
<circle cx="580.1" cy="358.3" r="6.25"/>
<circle cx="617.2" cy="358.3" r="6.25"/>
<circle cx="654.2" cy="356.5" r="6.25"/>
<circle cx="691.3" cy="356.5" r="6.25"/>
<circle cx="728.4" cy="356.5" r="6.25"/>
<circle cx="765.4" cy="356.5" r="6.25"/>
<circle cx="802.5" cy="356.5" r="6.25"/>
<circle cx="839.5" cy="354.7" r="6.25"/>
<circle cx="876.6" cy="354.7" r="6.25"/>
<circle cx="913.7" cy="354.7" r="6.25"/>
<circle cx="950.7" cy="354.7" r="6.25"/>
<circle cx="987.8" cy="352.9" r="6.25"/>
<circle cx="1024.9" cy="351.1" r="6.25"/>
<circle cx="1061.9" cy="349.3" r="6.25"/>
<circle cx="1099.0" cy="349.3" r="6.25"/>
<circle cx="1136.0" cy="345.7" r="6.25"/>
<circle cx="1173.1" cy="345.7" r="6.25"/>
<circle cx="1210.2" cy="343.9" r="6.25"/>
<circle cx="1247.2" cy="340.3" r="6.25"/>
<circle cx="1284.3" cy="336.7" r="6.25"/>
<circle cx="1321.4" cy="336.7" r="6.25"/>
<circle cx="1358.4" cy="333.0" r="6.25"/>
<circle cx="1395.5" cy="331.2" r="6.25"/>
<circle cx="1432.6" cy="327.6" r="6.25"/>
<circle cx="1469.6" cy="325.8" r="6.25"/>
<circle cx="1506.7" cy="322.2" r="6.25"/>
<circle cx="1543.7" cy="318.6" r="6.25"/>
<circle cx="1580.8" cy="315.0" r="6.25"/>
<circle cx="1617.9" cy="311.4" r="6.25"/>
<circle cx="1654.9" cy="307.8" r="6.25"/>
<circle cx="1692.0" cy="304.2" r="6.25"/>
<circle cx="1729.1" cy="298.8" r="6.25"/>
<circle cx="1766.1" cy="295.2" r="6.25"/>
<circle cx="1803.2" cy="293.4" r="6.25"/>
<circle cx="1840.2" cy="289.7" r="6.25"/>
<circle cx="1877.3" cy="286.1" r="6.25"/>
</g>
<g font-size="16" fill="#444444" stroke="#444444" stroke-width="0.4" letter-spacing="-0.1">
<circle cx="34.2" cy="143.40" r="10.3" fill="#88c4a8" stroke="none"/>
<text x="58.5" y="149.50">Emilia Romagna</text>
<circle cx="34.2" cy="177.12" r="10.3" fill="#f0c76c" stroke="none"/>
<text x="58.5" y="183.22">Friuli Venezia Giulia</text>
<circle cx="34.2" cy="210.84" r="10.3" fill="#5ab3e5" stroke="none"/>
<text x="58.5" y="216.94">Liguria</text>
<circle cx="34.2" cy="244.56" r="10.3" fill="#e8502a" stroke="none"/>
<text x="58.5" y="250.66">Lombardia</text>
<circle cx="34.2" cy="278.28" r="10.3" fill="#f0c76c" stroke="none"/>
<text x="58.5" y="284.38">P.A. Bolzano</text>
<circle cx="34.2" cy="312.00" r="10.3" fill="#6b50d8" stroke="none"/>
<text x="58.5" y="318.10">P.A. Trento</text>
<circle cx="34.2" cy="345.72" r="10.3" fill="#9d9d9d" stroke="none"/>
<text x="58.5" y="351.82">Valle d'Aosta</text>
<circle cx="34.2" cy="379.44" r="10.3" fill="#000000" stroke="none"/>
<text x="58.5" y="385.54">Italia</text>
</g>
</g>
<g id="chart2">
<line x1="144.6" y1="530.91" x2="1895.3" y2="530.91" stroke="#e1e1e1" stroke-width="1.8"/>
<line x1="144.6" y1="568.96" x2="1895.3" y2="568.96" stroke="#e1e1e1" stroke-width="1.8"/>
<line x1="144.6" y1="607.01" x2="1895.3" y2="607.01" stroke="#e1e1e1" stroke-width="1.8"/>
<line x1="144.6" y1="645.05" x2="1895.3" y2="645.05" stroke="#e1e1e1" stroke-width="1.8"/>
<line x1="144.6" y1="683.10" x2="1895.3" y2="683.10" stroke="#e1e1e1" stroke-width="1.8"/>
<line x1="144.6" y1="721.14" x2="1895.3" y2="721.14" stroke="#e1e1e1" stroke-width="1.8"/>
<line x1="144.6" y1="759.19" x2="1895.3" y2="759.19" stroke="#e1e1e1" stroke-width="1.8"/>
<line x1="144.6" y1="797.23" x2="1895.3" y2="797.23" stroke="#e1e1e1" stroke-width="1.8"/>
<line x1="144.6" y1="835.28" x2="1895.3" y2="835.28" stroke="#e1e1e1" stroke-width="1.8"/>
<line x1="144.6" y1="873.32" x2="1895.3" y2="873.32" stroke="#dedede" stroke-width="1.1"/>
<line x1="144.6" y1="911.37" x2="1895.3" y2="911.37" stroke="#e1e1e1" stroke-width="1.8"/>
<g font-size="16.5" fill="#444444" stroke="#444444" stroke-width="0.4">
<text x="145.4" y="526.31">4.5</text>
<text x="145.4" y="564.36">4</text>
<text x="145.4" y="602.41">3.5</text>
<text x="145.4" y="640.45">3</text>
<text x="145.4" y="678.50">2.5</text>
<text x="145.4" y="716.54">2</text>
<text x="145.4" y="754.59">1.5</text>
<text x="145.4" y="792.63">1</text>
<text x="145.4" y="830.68">0.5</text>
<text x="145.4" y="868.72">0</text>
<text x="145.4" y="906.76">-0.5</text>
</g>
<g font-size="16.5" fill="#444444" stroke="#444444" stroke-width="0.35" text-anchor="end" letter-spacing="0.73">
<text transform="translate(208.60 928.00) rotate(-45)">24/02/2020</text>
<text transform="translate(247.56 928.00) rotate(-45)">25/02/2020</text>
<text transform="translate(286.52 928.00) rotate(-45)">26/02/2020</text>
<text transform="translate(325.48 928.00) rotate(-45)">27/02/2020</text>
<text transform="translate(364.44 928.00) rotate(-45)">28/02/2020</text>
<text transform="translate(403.40 928.00) rotate(-45)">29/02/2020</text>
<text transform="translate(442.36 928.00) rotate(-45)">01/03/2020</text>
<text transform="translate(481.32 928.00) rotate(-45)">02/03/2020</text>
<text transform="translate(520.28 928.00) rotate(-45)">03/03/2020</text>
<text transform="translate(559.24 928.00) rotate(-45)">04/03/2020</text>
<text transform="translate(598.20 928.00) rotate(-45)">05/03/2020</text>
<text transform="translate(637.16 928.00) rotate(-45)">06/03/2020</text>
<text transform="translate(676.12 928.00) rotate(-45)">07/03/2020</text>
<text transform="translate(715.08 928.00) rotate(-45)">08/03/2020</text>
<text transform="translate(754.04 928.00) rotate(-45)">09/03/2020</text>
<text transform="translate(793.00 928.00) rotate(-45)">10/03/2020</text>
<text transform="translate(831.96 928.00) rotate(-45)">11/03/2020</text>
<text transform="translate(870.92 928.00) rotate(-45)">12/03/2020</text>
<text transform="translate(909.88 928.00) rotate(-45)">13/03/2020</text>
<text transform="translate(948.84 928.00) rotate(-45)">14/03/2020</text>
<text transform="translate(987.80 928.00) rotate(-45)">15/03/2020</text>
<text transform="translate(1026.76 928.00) rotate(-45)">16/03/2020</text>
<text transform="translate(1065.72 928.00) rotate(-45)">17/03/2020</text>
<text transform="translate(1104.68 928.00) rotate(-45)">18/03/2020</text>
<text transform="translate(1143.64 928.00) rotate(-45)">19/03/2020</text>
<text transform="translate(1182.60 928.00) rotate(-45)">20/03/2020</text>
<text transform="translate(1221.56 928.00) rotate(-45)">21/03/2020</text>
<text transform="translate(1260.52 928.00) rotate(-45)">22/03/2020</text>
<text transform="translate(1299.48 928.00) rotate(-45)">23/03/2020</text>
<text transform="translate(1338.44 928.00) rotate(-45)">24/03/2020</text>
<text transform="translate(1377.40 928.00) rotate(-45)">25/03/2020</text>
<text transform="translate(1416.36 928.00) rotate(-45)">26/03/2020</text>
<text transform="translate(1455.32 928.00) rotate(-45)">27/03/2020</text>
<text transform="translate(1494.28 928.00) rotate(-45)">28/03/2020</text>
<text transform="translate(1533.24 928.00) rotate(-45)">29/03/2020</text>
<text transform="translate(1572.20 928.00) rotate(-45)">30/03/2020</text>
<text transform="translate(1611.16 928.00) rotate(-45)">31/03/2020</text>
<text transform="translate(1650.12 928.00) rotate(-45)">01/04/2020</text>
<text transform="translate(1689.08 928.00) rotate(-45)">02/04/2020</text>
<text transform="translate(1728.04 928.00) rotate(-45)">03/04/2020</text>
<text transform="translate(1767.00 928.00) rotate(-45)">04/04/2020</text>
<text transform="translate(1805.96 928.00) rotate(-45)">05/04/2020</text>
<text transform="translate(1844.92 928.00) rotate(-45)">06/04/2020</text>
<text transform="translate(1883.88 928.00) rotate(-45)">07/04/2020</text>
</g>
<g fill="#88c4a8" stroke="#fff" stroke-width="2.1">
<path d="M208.2 872.9L231.6 872.9M247.2 872.9L270.5 872.9M286.1 872.9L309.5 872.9M325.1 872.9L348.4 872.9M364.0 872.9L387.4 872.9M403.0 872.9L426.4 872.9M442.0 872.9L465.3 872.9M480.9 872.9L504.3 872.9M519.9 872.9L543.2 872.9M558.8 872.9L582.2 872.9M597.8 872.9L621.2 872.9M636.8 872.9L660.1 872.9M675.7 872.9L699.1 872.9M714.7 872.9L738.0 872.9M753.6 872.9L777.0 872.9M792.6 872.9L816.0 872.9M831.6 872.9L854.9 872.9M870.5 872.9L893.9 872.9M909.5 872.9L932.8 872.9M948.4 872.9L971.8 872.9M987.4 872.9L1010.8 872.9M1026.4 872.9L1049.7 872.9M1065.3 872.9L1088.7 872.9M1104.3 872.9L1127.6 872.9M1143.2 872.9L1166.6 872.9M1182.2 872.9L1205.6 872.9M1221.2 872.9L1244.5 872.9M1260.0 871.4L1283.6 866.7M1299.1 865.2L1322.4 865.2M1338.0 865.2L1361.4 865.2M1377.0 865.2L1400.4 865.2M1416.0 865.2L1439.3 865.2M1454.9 865.2L1478.3 865.2M1493.9 865.2L1517.2 865.2M1532.8 865.2L1556.2 865.2M1571.8 865.2L1595.2 865.2M1610.6 863.7L1634.3 859.1M1649.6 856.1L1673.2 851.5M1688.7 850.0L1712.0 850.0M1722.4 842.6L1756.3 743.2M1766.5 734.3L1790.1 729.7M1805.6 728.2L1828.9 728.2M1843.4 724.2L1869.0 709.3" fill="none" stroke="#88c4a8" stroke-width="2.3"/>
<circle cx="200.4" cy="872.9" r="6.25"/>
<circle cx="239.4" cy="872.9" r="6.25"/>
<circle cx="278.3" cy="872.9" r="6.25"/>
<circle cx="317.3" cy="872.9" r="6.25"/>
<circle cx="356.2" cy="872.9" r="6.25"/>
<circle cx="395.2" cy="872.9" r="6.25"/>
<circle cx="434.2" cy="872.9" r="6.25"/>
<circle cx="473.1" cy="872.9" r="6.25"/>
<circle cx="512.1" cy="872.9" r="6.25"/>
<circle cx="551.0" cy="872.9" r="6.25"/>
<circle cx="590.0" cy="872.9" r="6.25"/>
<circle cx="629.0" cy="872.9" r="6.25"/>
<circle cx="667.9" cy="872.9" r="6.25"/>
<circle cx="706.9" cy="872.9" r="6.25"/>
<circle cx="745.8" cy="872.9" r="6.25"/>
<circle cx="784.8" cy="872.9" r="6.25"/>
<circle cx="823.8" cy="872.9" r="6.25"/>
<circle cx="862.7" cy="872.9" r="6.25"/>
<circle cx="901.7" cy="872.9" r="6.25"/>
<circle cx="940.6" cy="872.9" r="6.25"/>
<circle cx="979.6" cy="872.9" r="6.25"/>
<circle cx="1018.6" cy="872.9" r="6.25"/>
<circle cx="1057.5" cy="872.9" r="6.25"/>
<circle cx="1096.5" cy="872.9" r="6.25"/>
<circle cx="1135.4" cy="872.9" r="6.25"/>
<circle cx="1174.4" cy="872.9" r="6.25"/>
<circle cx="1213.4" cy="872.9" r="6.25"/>
<circle cx="1252.3" cy="872.9" r="6.25"/>
<circle cx="1291.3" cy="865.2" r="6.25"/>
<circle cx="1330.2" cy="865.2" r="6.25"/>
<circle cx="1369.2" cy="865.2" r="6.25"/>
<circle cx="1408.2" cy="865.2" r="6.25"/>
<circle cx="1447.1" cy="865.2" r="6.25"/>
<circle cx="1486.1" cy="865.2" r="6.25"/>
<circle cx="1525.0" cy="865.2" r="6.25"/>
<circle cx="1564.0" cy="865.2" r="6.25"/>
<circle cx="1603.0" cy="865.2" r="6.25"/>
<circle cx="1641.9" cy="857.6" r="6.25"/>
<circle cx="1680.9" cy="850.0" r="6.25"/>
<circle cx="1719.8" cy="850.0" r="6.25"/>
<circle cx="1758.8" cy="735.8" r="6.25"/>
<circle cx="1797.8" cy="728.2" r="6.25"/>
<circle cx="1836.7" cy="728.2" r="6.25"/>
<circle cx="1875.7" cy="705.3" r="6.25"/>
</g>
<g fill="#ab92cc" stroke="#fff" stroke-width="2.1">
<path d="M208.2 872.9L231.6 872.9M247.2 872.9L270.5 872.9M286.1 872.9L309.5 872.9M325.1 872.9L348.4 872.9M364.0 872.9L387.4 872.9M403.0 872.9L426.4 872.9M442.0 872.9L465.3 872.9M480.9 872.9L504.3 872.9M519.9 872.9L543.2 872.9M558.8 872.9L582.2 872.9M597.8 872.9L621.2 872.9M636.8 872.9L660.1 872.9M675.7 872.9L699.1 872.9M714.7 872.9L738.0 872.9M753.6 872.9L777.0 872.9M792.6 872.9L816.0 872.9M831.6 872.9L854.9 872.9M870.5 872.9L893.9 872.9M909.5 872.9L932.8 872.9M948.4 872.9L971.8 872.9M987.4 872.9L1010.8 872.9M1026.4 872.9L1049.7 872.9M1065.3 872.9L1088.7 872.9M1104.3 872.9L1127.6 872.9M1143.2 872.9L1166.6 872.9M1182.2 872.9L1205.6 872.9M1221.2 872.9L1244.5 872.9M1260.1 872.9L1283.5 872.9M1299.1 872.9L1322.4 872.9M1338.0 872.9L1361.4 872.9M1375.9 868.9L1401.4 854.0M1415.8 848.5L1439.5 843.9M1454.8 840.9L1478.4 836.3M1493.7 833.3L1517.4 828.7M1532.7 825.7L1556.3 821.0M1571.7 818.1L1595.3 813.4M1610.2 809.1L1634.7 799.5M1648.6 792.8L1674.2 777.8M1687.0 769.1L1713.7 748.2M1726.6 739.5L1752.1 724.5M1765.5 716.6L1791.0 701.7M1804.5 693.8L1830.0 678.8M1842.9 670.1L1869.5 649.2" fill="none" stroke="#ab92cc" stroke-width="2.3"/>
<circle cx="200.4" cy="872.9" r="6.25"/>
<circle cx="239.4" cy="872.9" r="6.25"/>
<circle cx="278.3" cy="872.9" r="6.25"/>
<circle cx="317.3" cy="872.9" r="6.25"/>
<circle cx="356.2" cy="872.9" r="6.25"/>
<circle cx="395.2" cy="872.9" r="6.25"/>
<circle cx="434.2" cy="872.9" r="6.25"/>
<circle cx="473.1" cy="872.9" r="6.25"/>
<circle cx="512.1" cy="872.9" r="6.25"/>
<circle cx="551.0" cy="872.9" r="6.25"/>
<circle cx="590.0" cy="872.9" r="6.25"/>
<circle cx="629.0" cy="872.9" r="6.25"/>
<circle cx="667.9" cy="872.9" r="6.25"/>
<circle cx="706.9" cy="872.9" r="6.25"/>
<circle cx="745.8" cy="872.9" r="6.25"/>
<circle cx="784.8" cy="872.9" r="6.25"/>
<circle cx="823.8" cy="872.9" r="6.25"/>
<circle cx="862.7" cy="872.9" r="6.25"/>
<circle cx="901.7" cy="872.9" r="6.25"/>
<circle cx="940.6" cy="872.9" r="6.25"/>
<circle cx="979.6" cy="872.9" r="6.25"/>
<circle cx="1018.6" cy="872.9" r="6.25"/>
<circle cx="1057.5" cy="872.9" r="6.25"/>
<circle cx="1096.5" cy="872.9" r="6.25"/>
<circle cx="1135.4" cy="872.9" r="6.25"/>
<circle cx="1174.4" cy="872.9" r="6.25"/>
<circle cx="1213.4" cy="872.9" r="6.25"/>
<circle cx="1252.3" cy="872.9" r="6.25"/>
<circle cx="1291.3" cy="872.9" r="6.25"/>
<circle cx="1330.2" cy="872.9" r="6.25"/>
<circle cx="1369.2" cy="872.9" r="6.25"/>
<circle cx="1408.2" cy="850.0" r="6.25"/>
<circle cx="1447.1" cy="842.4" r="6.25"/>
<circle cx="1486.1" cy="834.8" r="6.25"/>
<circle cx="1525.0" cy="827.2" r="6.25"/>
<circle cx="1564.0" cy="819.6" r="6.25"/>
<circle cx="1603.0" cy="811.9" r="6.25"/>
<circle cx="1641.9" cy="796.7" r="6.25"/>
<circle cx="1680.9" cy="773.9" r="6.25"/>
<circle cx="1719.8" cy="743.4" r="6.25"/>
<circle cx="1758.8" cy="720.6" r="6.25"/>
<circle cx="1797.8" cy="697.7" r="6.25"/>
<circle cx="1836.7" cy="674.9" r="6.25"/>
<circle cx="1875.7" cy="644.4" r="6.25"/>
</g>
<g fill="#f0c76c" stroke="#fff" stroke-width="2.1">
<path d="M208.2 872.9L231.6 872.9M247.2 872.9L270.5 872.9M286.1 872.9L309.5 872.9M325.1 872.9L348.4 872.9M364.0 872.9L387.4 872.9M403.0 872.9L426.4 872.9M442.0 872.9L465.3 872.9M480.9 872.9L504.3 872.9M519.9 872.9L543.2 872.9M558.8 872.9L582.2 872.9M597.8 872.9L621.2 872.9M636.8 872.9L660.1 872.9M675.7 872.9L699.1 872.9M714.7 872.9L738.0 872.9M753.6 872.9L777.0 872.9M792.6 872.9L816.0 872.9M831.6 872.9L854.9 872.9M870.5 872.9L893.9 872.9M909.5 872.9L932.8 872.9M948.4 872.9L971.8 872.9M987.4 872.9L1010.8 872.9M1026.4 872.9L1049.7 872.9M1065.3 872.9L1088.7 872.9M1104.3 872.9L1127.6 872.9M1143.2 872.9L1166.6 872.9M1182.1 871.4L1205.7 866.7M1221.2 865.2L1244.5 865.2M1260.1 865.2L1283.5 865.2M1299.1 865.2L1322.4 865.2M1338.0 865.2L1361.4 865.2M1377.0 865.2L1400.4 865.2M1414.9 861.3L1440.4 846.3M1454.8 840.9L1478.4 836.3M1491.1 828.8L1520.0 795.0M1528.6 782.2L1560.4 719.9M1571.7 711.5L1595.3 706.8M1610.8 705.3L1634.1 705.3M1649.6 703.8L1673.2 699.2M1688.1 694.9L1712.6 685.3M1727.1 679.7L1751.5 670.1M1763.4 661.0L1793.2 620.3M1803.9 609.2L1830.6 588.3M1842.9 578.7L1869.5 557.9" fill="none" stroke="#f0c76c" stroke-width="2.3"/>
<circle cx="200.4" cy="872.9" r="6.25"/>
<circle cx="239.4" cy="872.9" r="6.25"/>
<circle cx="278.3" cy="872.9" r="6.25"/>
<circle cx="317.3" cy="872.9" r="6.25"/>
<circle cx="356.2" cy="872.9" r="6.25"/>
<circle cx="395.2" cy="872.9" r="6.25"/>
<circle cx="434.2" cy="872.9" r="6.25"/>
<circle cx="473.1" cy="872.9" r="6.25"/>
<circle cx="512.1" cy="872.9" r="6.25"/>
<circle cx="551.0" cy="872.9" r="6.25"/>
<circle cx="590.0" cy="872.9" r="6.25"/>
<circle cx="629.0" cy="872.9" r="6.25"/>
<circle cx="667.9" cy="872.9" r="6.25"/>
<circle cx="706.9" cy="872.9" r="6.25"/>
<circle cx="745.8" cy="872.9" r="6.25"/>
<circle cx="784.8" cy="872.9" r="6.25"/>
<circle cx="823.8" cy="872.9" r="6.25"/>
<circle cx="862.7" cy="872.9" r="6.25"/>
<circle cx="901.7" cy="872.9" r="6.25"/>
<circle cx="940.6" cy="872.9" r="6.25"/>
<circle cx="979.6" cy="872.9" r="6.25"/>
<circle cx="1018.6" cy="872.9" r="6.25"/>
<circle cx="1057.5" cy="872.9" r="6.25"/>
<circle cx="1096.5" cy="872.9" r="6.25"/>
<circle cx="1135.4" cy="872.9" r="6.25"/>
<circle cx="1174.4" cy="872.9" r="6.25"/>
<circle cx="1213.4" cy="865.2" r="6.25"/>
<circle cx="1252.3" cy="865.2" r="6.25"/>
<circle cx="1291.3" cy="865.2" r="6.25"/>
<circle cx="1330.2" cy="865.2" r="6.25"/>
<circle cx="1369.2" cy="865.2" r="6.25"/>
<circle cx="1408.2" cy="865.2" r="6.25"/>
<circle cx="1447.1" cy="842.4" r="6.25"/>
<circle cx="1486.1" cy="834.8" r="6.25"/>
<circle cx="1525.0" cy="789.1" r="6.25"/>
<circle cx="1564.0" cy="713.0" r="6.25"/>
<circle cx="1603.0" cy="705.3" r="6.25"/>
<circle cx="1641.9" cy="705.3" r="6.25"/>
<circle cx="1680.9" cy="697.7" r="6.25"/>
<circle cx="1719.8" cy="682.5" r="6.25"/>
<circle cx="1758.8" cy="667.3" r="6.25"/>
<circle cx="1797.8" cy="614.0" r="6.25"/>
<circle cx="1836.7" cy="583.5" r="6.25"/>
<circle cx="1875.7" cy="553.1" r="6.25"/>
</g>
<g fill="#5ab3e5" stroke="#fff" stroke-width="2.1">
<path d="M208.2 872.9L231.6 872.9M247.2 872.9L270.5 872.9M286.1 872.9L309.5 872.9M325.1 872.9L348.4 872.9M364.0 872.9L387.4 872.9M403.0 872.9L426.4 872.9M442.0 872.9L465.3 872.9M480.9 872.9L504.3 872.9M519.9 872.9L543.2 872.9M558.8 872.9L582.2 872.9M597.8 872.9L621.2 872.9M636.6 871.4L660.3 866.7M675.7 865.2L699.1 865.2M714.7 865.2L738.0 865.2M753.6 865.2L777.0 865.2M792.6 865.2L816.0 865.2M831.6 865.2L854.9 865.2M870.4 863.7L894.0 859.1M909.5 857.6L932.8 857.6M948.4 857.6L971.8 857.6M987.3 856.1L1010.9 851.5M1026.4 850.0L1049.7 850.0M1065.3 850.0L1088.7 850.0M1104.1 848.5L1127.8 843.9M1143.1 840.9L1166.7 836.3M1182.2 834.8L1205.6 834.8M1221.0 833.3L1244.7 828.7M1260.0 825.7L1283.6 821.0M1298.9 818.1L1322.6 813.4M1337.9 810.4L1361.5 805.8M1376.9 802.8L1400.5 798.2M1415.8 795.2L1439.5 790.6M1454.4 786.3L1478.8 776.7M1493.3 771.0L1517.8 761.5M1532.8 758.6L1556.2 758.6M1571.3 755.8L1595.7 746.3M1610.6 741.9L1634.3 737.3M1649.2 733.0L1673.6 723.4M1688.5 719.1L1712.2 714.5M1727.1 710.1L1751.5 700.6M1766.5 696.2L1790.1 691.6M1805.4 688.6L1829.1 684.0M1844.4 681.0L1868.0 676.4" fill="none" stroke="#5ab3e5" stroke-width="2.3"/>
<circle cx="200.4" cy="872.9" r="6.25"/>
<circle cx="239.4" cy="872.9" r="6.25"/>
<circle cx="278.3" cy="872.9" r="6.25"/>
<circle cx="317.3" cy="872.9" r="6.25"/>
<circle cx="356.2" cy="872.9" r="6.25"/>
<circle cx="395.2" cy="872.9" r="6.25"/>
<circle cx="434.2" cy="872.9" r="6.25"/>
<circle cx="473.1" cy="872.9" r="6.25"/>
<circle cx="512.1" cy="872.9" r="6.25"/>
<circle cx="551.0" cy="872.9" r="6.25"/>
<circle cx="590.0" cy="872.9" r="6.25"/>
<circle cx="629.0" cy="872.9" r="6.25"/>
<circle cx="667.9" cy="865.2" r="6.25"/>
<circle cx="706.9" cy="865.2" r="6.25"/>
<circle cx="745.8" cy="865.2" r="6.25"/>
<circle cx="784.8" cy="865.2" r="6.25"/>
<circle cx="823.8" cy="865.2" r="6.25"/>
<circle cx="862.7" cy="865.2" r="6.25"/>
<circle cx="901.7" cy="857.6" r="6.25"/>
<circle cx="940.6" cy="857.6" r="6.25"/>
<circle cx="979.6" cy="857.6" r="6.25"/>
<circle cx="1018.6" cy="850.0" r="6.25"/>
<circle cx="1057.5" cy="850.0" r="6.25"/>
<circle cx="1096.5" cy="850.0" r="6.25"/>
<circle cx="1135.4" cy="842.4" r="6.25"/>
<circle cx="1174.4" cy="834.8" r="6.25"/>
<circle cx="1213.4" cy="834.8" r="6.25"/>
<circle cx="1252.3" cy="827.2" r="6.25"/>
<circle cx="1291.3" cy="819.6" r="6.25"/>
<circle cx="1330.2" cy="811.9" r="6.25"/>
<circle cx="1369.2" cy="804.3" r="6.25"/>
<circle cx="1408.2" cy="796.7" r="6.25"/>
<circle cx="1447.1" cy="789.1" r="6.25"/>
<circle cx="1486.1" cy="773.9" r="6.25"/>
<circle cx="1525.0" cy="758.6" r="6.25"/>
<circle cx="1564.0" cy="758.6" r="6.25"/>
<circle cx="1603.0" cy="743.4" r="6.25"/>
<circle cx="1641.9" cy="735.8" r="6.25"/>
<circle cx="1680.9" cy="720.6" r="6.25"/>
<circle cx="1719.8" cy="713.0" r="6.25"/>
<circle cx="1758.8" cy="697.7" r="6.25"/>
<circle cx="1797.8" cy="690.1" r="6.25"/>
<circle cx="1836.7" cy="682.5" r="6.25"/>
<circle cx="1875.7" cy="674.9" r="6.25"/>
</g>
<g fill="#000000" stroke="#fff" stroke-width="2.1">
<g fill="none" stroke="#000000" stroke-width="2.6" stroke-dasharray="2.55 2.55">
<path d="M208.2 872.9L231.6 872.9" stroke-dashoffset="2.70"/>
<path d="M247.2 872.9L270.5 872.9" stroke-dashoffset="0.86"/>
<path d="M286.1 872.9L309.5 872.9" stroke-dashoffset="4.12"/>
<path d="M325.1 872.9L348.4 872.9" stroke-dashoffset="2.28"/>
<path d="M364.0 872.9L387.4 872.9" stroke-dashoffset="0.44"/>
<path d="M403.0 872.9L426.4 872.9" stroke-dashoffset="3.70"/>
<path d="M442.0 872.9L465.3 872.9" stroke-dashoffset="1.86"/>
<path d="M480.9 872.9L504.3 872.9" stroke-dashoffset="0.02"/>
<path d="M519.9 872.9L543.2 872.9" stroke-dashoffset="3.28"/>
<path d="M558.7 871.4L582.3 866.7" stroke-dashoffset="1.44"/>
<path d="M597.8 865.2L621.2 865.2" stroke-dashoffset="0.34"/>
<path d="M636.8 865.2L660.1 865.2" stroke-dashoffset="3.60"/>
<path d="M675.7 865.2L699.1 865.2" stroke-dashoffset="1.76"/>
<path d="M714.7 865.2L738.0 865.2" stroke-dashoffset="5.02"/>
<path d="M753.5 863.7L777.1 859.1" stroke-dashoffset="3.18"/>
<path d="M792.6 857.6L816.0 857.6" stroke-dashoffset="2.07"/>
<path d="M831.6 857.6L854.9 857.6" stroke-dashoffset="0.23"/>
<path d="M870.5 857.6L893.9 857.6" stroke-dashoffset="3.49"/>
<path d="M909.3 856.1L933.0 851.5" stroke-dashoffset="1.65"/>
<path d="M948.3 848.5L971.9 843.9" stroke-dashoffset="0.55"/>
<path d="M987.3 840.9L1010.9 836.3" stroke-dashoffset="4.55"/>
<path d="M1026.4 834.8L1049.7 834.8" stroke-dashoffset="3.45"/>
<path d="M1064.8 831.9L1089.2 822.4" stroke-dashoffset="1.61"/>
<path d="M1104.3 819.6L1127.6 819.6" stroke-dashoffset="2.64"/>
<path d="M1143.1 818.1L1166.7 813.4" stroke-dashoffset="0.80"/>
<path d="M1181.7 809.1L1206.1 799.5" stroke-dashoffset="4.79"/>
<path d="M1220.6 793.9L1245.1 784.3" stroke-dashoffset="0.72"/>
<path d="M1260.1 781.5L1283.5 781.5" stroke-dashoffset="1.75"/>
<path d="M1298.5 778.6L1323.0 769.1" stroke-dashoffset="5.01"/>
<path d="M1337.9 764.8L1361.5 760.1" stroke-dashoffset="0.94"/>
<path d="M1376.5 755.8L1400.9 746.3" stroke-dashoffset="4.94"/>
<path d="M1415.8 741.9L1439.5 737.3" stroke-dashoffset="0.87"/>
<path d="M1454.4 733.0L1478.8 723.4" stroke-dashoffset="4.87"/>
<path d="M1493.3 717.7L1517.8 708.2" stroke-dashoffset="0.80"/>
<path d="M1532.3 702.5L1556.7 693.0" stroke-dashoffset="1.83"/>
<path d="M1571.3 687.3L1595.7 677.7" stroke-dashoffset="2.86"/>
<path d="M1610.2 672.0L1634.7 662.5" stroke-dashoffset="3.89"/>
<path d="M1649.2 656.8L1673.6 647.3" stroke-dashoffset="4.92"/>
<path d="M1687.6 640.5L1713.1 625.5" stroke-dashoffset="0.85"/>
<path d="M1727.1 618.7L1751.5 609.2" stroke-dashoffset="0.11"/>
<path d="M1766.5 604.9L1790.1 600.2" stroke-dashoffset="1.14"/>
<path d="M1805.0 595.9L1829.5 586.4" stroke-dashoffset="0.04"/>
<path d="M1844.0 580.7L1868.4 571.1" stroke-dashoffset="1.07"/>
</g>
<circle cx="200.4" cy="872.9" r="6.25"/>
<circle cx="239.4" cy="872.9" r="6.25"/>
<circle cx="278.3" cy="872.9" r="6.25"/>
<circle cx="317.3" cy="872.9" r="6.25"/>
<circle cx="356.2" cy="872.9" r="6.25"/>
<circle cx="395.2" cy="872.9" r="6.25"/>
<circle cx="434.2" cy="872.9" r="6.25"/>
<circle cx="473.1" cy="872.9" r="6.25"/>
<circle cx="512.1" cy="872.9" r="6.25"/>
<circle cx="551.0" cy="872.9" r="6.25"/>
<circle cx="590.0" cy="865.2" r="6.25"/>
<circle cx="629.0" cy="865.2" r="6.25"/>
<circle cx="667.9" cy="865.2" r="6.25"/>
<circle cx="706.9" cy="865.2" r="6.25"/>
<circle cx="745.8" cy="865.2" r="6.25"/>
<circle cx="784.8" cy="857.6" r="6.25"/>
<circle cx="823.8" cy="857.6" r="6.25"/>
<circle cx="862.7" cy="857.6" r="6.25"/>
<circle cx="901.7" cy="857.6" r="6.25"/>
<circle cx="940.6" cy="850.0" r="6.25"/>
<circle cx="979.6" cy="842.4" r="6.25"/>
<circle cx="1018.6" cy="834.8" r="6.25"/>
<circle cx="1057.5" cy="834.8" r="6.25"/>
<circle cx="1096.5" cy="819.6" r="6.25"/>
<circle cx="1135.4" cy="819.6" r="6.25"/>
<circle cx="1174.4" cy="811.9" r="6.25"/>
<circle cx="1213.4" cy="796.7" r="6.25"/>
<circle cx="1252.3" cy="781.5" r="6.25"/>
<circle cx="1291.3" cy="781.5" r="6.25"/>
<circle cx="1330.2" cy="766.3" r="6.25"/>
<circle cx="1369.2" cy="758.6" r="6.25"/>
<circle cx="1408.2" cy="743.4" r="6.25"/>
<circle cx="1447.1" cy="735.8" r="6.25"/>
<circle cx="1486.1" cy="720.6" r="6.25"/>
<circle cx="1525.0" cy="705.3" r="6.25"/>
<circle cx="1564.0" cy="690.1" r="6.25"/>
<circle cx="1603.0" cy="674.9" r="6.25"/>
<circle cx="1641.9" cy="659.7" r="6.25"/>
<circle cx="1680.9" cy="644.4" r="6.25"/>
<circle cx="1719.8" cy="621.6" r="6.25"/>
<circle cx="1758.8" cy="606.4" r="6.25"/>
<circle cx="1797.8" cy="598.7" r="6.25"/>
<circle cx="1836.7" cy="583.5" r="6.25"/>
<circle cx="1875.7" cy="568.3" r="6.25"/>
</g>
<g font-size="16" fill="#444444" stroke="#444444" stroke-width="0.4" letter-spacing="0.08">
<circle cx="20.6" cy="685.50" r="10.3" fill="#88c4a8" stroke="none"/>
<text x="44.6" y="691.10">Marche</text>
<circle cx="20.6" cy="719.20" r="10.3" fill="#ab92cc" stroke="none"/>
<text x="44.6" y="724.80">Piemonte</text>
<circle cx="20.6" cy="752.90" r="10.3" fill="#f0c76c" stroke="none"/>
<text x="44.6" y="758.50">Umbria</text>
<circle cx="20.6" cy="786.60" r="10.3" fill="#5ab3e5" stroke="none"/>
<text x="44.6" y="792.20">Veneto</text>
<circle cx="20.6" cy="820.30" r="10.3" fill="#000000" stroke="none"/>
<text x="44.6" y="825.90">Italia</text>
</g>
</g>
</svg>
<a id="foot"><span style="letter-spacing:0.758px">Lic. </span><span style="letter-spacing:0.158px">CCBY4.0 </span><span style="letter-spacing:0.156px">PCM-DPC  </span><span style="letter-spacing:0.77px">@piersoft </span><span style="letter-spacing:0.199px">. </span><span style="letter-spacing:0.586px">Ringrazio </span><span style="letter-spacing:0.334px">il </span><span style="letter-spacing:0.914px">Prof. </span><span style="letter-spacing:0.631px">Dott. </span><span style="letter-spacing:0.876px">Valerio </span><span style="letter-spacing:0.594px">Gennaro </span><span style="letter-spacing:-1.098px">- </span><span style="letter-spacing:0.95px">Epidemiologo</span></a>
<div id="botbar2"></div>
<div id="botbar"></div>
<div id="rightedge"></div>
</body>
</html>
